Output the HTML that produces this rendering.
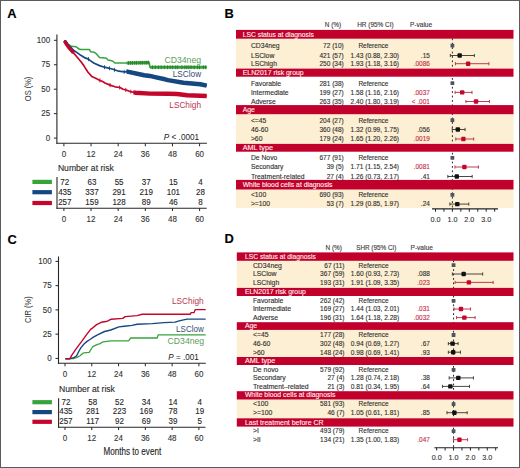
<!DOCTYPE html>
<html><head><meta charset="utf-8"><style>
html,body{margin:0;padding:0;background:#fff;}
body{width:520px;height:468px;overflow:hidden;}
svg{display:block;font-family:"Liberation Sans", sans-serif;}
</style></head><body>
<svg width="520" height="468" viewBox="0 0 520 468">
<rect x="0" y="0" width="520" height="468" fill="#fff"/>
<text x="7.20" y="17.60" font-size="12.9" fill="#000" stroke="#000" stroke-width="0.12" font-weight="bold">A</text>
<text x="224.60" y="17.80" font-size="12.9" fill="#000" stroke="#000" stroke-width="0.12" font-weight="bold">B</text>
<text x="7.50" y="244.00" font-size="12.9" fill="#000" stroke="#000" stroke-width="0.12" font-weight="bold">C</text>
<text x="224.40" y="242.80" font-size="12.9" fill="#000" stroke="#000" stroke-width="0.12" font-weight="bold">D</text>
<line x1="56.90" y1="34.50" x2="56.90" y2="143.85" stroke="#262626" stroke-width="1.1"/>
<line x1="56.35" y1="143.30" x2="206.90" y2="143.30" stroke="#262626" stroke-width="1.1"/>
<line x1="53.90" y1="40.30" x2="56.90" y2="40.30" stroke="#262626" stroke-width="1"/>
<text x="50.10" y="42.90" font-size="9.3" fill="#333333" stroke="#333333" stroke-width="0.12" text-anchor="end" textLength="13.34" lengthAdjust="spacingAndGlyphs">100</text>
<line x1="53.90" y1="64.75" x2="56.90" y2="64.75" stroke="#262626" stroke-width="1"/>
<text x="50.10" y="67.35" font-size="9.3" fill="#333333" stroke="#333333" stroke-width="0.12" text-anchor="end" textLength="8.90" lengthAdjust="spacingAndGlyphs">75</text>
<line x1="53.90" y1="89.20" x2="56.90" y2="89.20" stroke="#262626" stroke-width="1"/>
<text x="50.10" y="91.80" font-size="9.3" fill="#333333" stroke="#333333" stroke-width="0.12" text-anchor="end" textLength="8.90" lengthAdjust="spacingAndGlyphs">50</text>
<line x1="53.90" y1="113.65" x2="56.90" y2="113.65" stroke="#262626" stroke-width="1"/>
<text x="50.10" y="116.25" font-size="9.3" fill="#333333" stroke="#333333" stroke-width="0.12" text-anchor="end" textLength="8.90" lengthAdjust="spacingAndGlyphs">25</text>
<line x1="53.90" y1="138.10" x2="56.90" y2="138.10" stroke="#262626" stroke-width="1"/>
<text x="50.10" y="140.70" font-size="9.3" fill="#333333" stroke="#333333" stroke-width="0.12" text-anchor="end" textLength="4.45" lengthAdjust="spacingAndGlyphs">0</text>
<line x1="63.90" y1="143.30" x2="63.90" y2="146.30" stroke="#262626" stroke-width="1"/>
<text x="63.90" y="157.00" font-size="9.3" fill="#333333" stroke="#333333" stroke-width="0.12" text-anchor="middle" textLength="4.45" lengthAdjust="spacingAndGlyphs">0</text>
<line x1="91.04" y1="143.30" x2="91.04" y2="146.30" stroke="#262626" stroke-width="1"/>
<text x="91.04" y="157.00" font-size="9.3" fill="#333333" stroke="#333333" stroke-width="0.12" text-anchor="middle" textLength="8.90" lengthAdjust="spacingAndGlyphs">12</text>
<line x1="118.18" y1="143.30" x2="118.18" y2="146.30" stroke="#262626" stroke-width="1"/>
<text x="118.18" y="157.00" font-size="9.3" fill="#333333" stroke="#333333" stroke-width="0.12" text-anchor="middle" textLength="8.90" lengthAdjust="spacingAndGlyphs">24</text>
<line x1="145.32" y1="143.30" x2="145.32" y2="146.30" stroke="#262626" stroke-width="1"/>
<text x="145.32" y="157.00" font-size="9.3" fill="#333333" stroke="#333333" stroke-width="0.12" text-anchor="middle" textLength="8.90" lengthAdjust="spacingAndGlyphs">36</text>
<line x1="172.46" y1="143.30" x2="172.46" y2="146.30" stroke="#262626" stroke-width="1"/>
<text x="172.46" y="157.00" font-size="9.3" fill="#333333" stroke="#333333" stroke-width="0.12" text-anchor="middle" textLength="8.90" lengthAdjust="spacingAndGlyphs">48</text>
<line x1="199.60" y1="143.30" x2="199.60" y2="146.30" stroke="#262626" stroke-width="1"/>
<text x="199.60" y="157.00" font-size="9.3" fill="#333333" stroke="#333333" stroke-width="0.12" text-anchor="middle" textLength="8.90" lengthAdjust="spacingAndGlyphs">60</text>
<text x="0" y="0" font-size="8.6" fill="#333333" text-anchor="middle" textLength="24.50" lengthAdjust="spacingAndGlyphs" transform="translate(30.60,88.90) rotate(-90)">OS (%)</text>
<polyline points="64.30,40.60 67.00,43.00 70.50,46.00 73.50,46.40 76.20,46.80 78.50,48.70 80.50,49.50 89.30,49.50 90.80,51.80 94.30,52.30 95.80,53.30 99.50,57.40 106.50,58.20 108.00,60.10 112.60,61.00 114.90,63.00 127.00,63.00 149.30,62.60 149.90,67.30 206.70,67.30" fill="none" stroke="#36A43B" stroke-width="1.5" stroke-linejoin="round" stroke-linecap="butt"/>
<polyline points="126.50,63.00 127.00,63.00 149.30,62.60" fill="none" stroke="#36A43B" stroke-width="3.2" stroke-linejoin="round" stroke-linecap="butt"/>
<polyline points="150.00,67.30 206.70,67.30" fill="none" stroke="#36A43B" stroke-width="2.9" stroke-linejoin="round" stroke-linecap="butt"/>
<line x1="128.50" y1="61.07" x2="128.50" y2="64.87" stroke="#2A7A2A" stroke-width="0.9"/>
<line x1="130.60" y1="61.04" x2="130.60" y2="64.84" stroke="#2A7A2A" stroke-width="0.9"/>
<line x1="132.40" y1="61.00" x2="132.40" y2="64.80" stroke="#2A7A2A" stroke-width="0.9"/>
<line x1="134.80" y1="60.96" x2="134.80" y2="64.76" stroke="#2A7A2A" stroke-width="0.9"/>
<line x1="136.50" y1="60.93" x2="136.50" y2="64.73" stroke="#2A7A2A" stroke-width="0.9"/>
<line x1="138.90" y1="60.89" x2="138.90" y2="64.69" stroke="#2A7A2A" stroke-width="0.9"/>
<line x1="140.80" y1="60.85" x2="140.80" y2="64.65" stroke="#2A7A2A" stroke-width="0.9"/>
<line x1="142.60" y1="60.82" x2="142.60" y2="64.62" stroke="#2A7A2A" stroke-width="0.9"/>
<line x1="144.90" y1="60.78" x2="144.90" y2="64.58" stroke="#2A7A2A" stroke-width="0.9"/>
<line x1="146.70" y1="60.75" x2="146.70" y2="64.55" stroke="#2A7A2A" stroke-width="0.9"/>
<line x1="148.40" y1="60.72" x2="148.40" y2="64.52" stroke="#2A7A2A" stroke-width="0.9"/>
<line x1="172.60" y1="65.40" x2="172.60" y2="69.20" stroke="#2A7A2A" stroke-width="0.9"/>
<line x1="175.70" y1="65.40" x2="175.70" y2="69.20" stroke="#2A7A2A" stroke-width="0.9"/>
<line x1="177.60" y1="65.40" x2="177.60" y2="69.20" stroke="#2A7A2A" stroke-width="0.9"/>
<line x1="181.80" y1="65.40" x2="181.80" y2="69.20" stroke="#2A7A2A" stroke-width="0.9"/>
<line x1="184.90" y1="65.40" x2="184.90" y2="69.20" stroke="#2A7A2A" stroke-width="0.9"/>
<line x1="186.80" y1="65.40" x2="186.80" y2="69.20" stroke="#2A7A2A" stroke-width="0.9"/>
<line x1="188.80" y1="65.40" x2="188.80" y2="69.20" stroke="#2A7A2A" stroke-width="0.9"/>
<line x1="191.10" y1="65.40" x2="191.10" y2="69.20" stroke="#2A7A2A" stroke-width="0.9"/>
<line x1="194.20" y1="65.40" x2="194.20" y2="69.20" stroke="#2A7A2A" stroke-width="0.9"/>
<line x1="197.60" y1="65.40" x2="197.60" y2="69.20" stroke="#2A7A2A" stroke-width="0.9"/>
<line x1="199.50" y1="65.40" x2="199.50" y2="69.20" stroke="#2A7A2A" stroke-width="0.9"/>
<line x1="203.40" y1="65.40" x2="203.40" y2="69.20" stroke="#2A7A2A" stroke-width="0.9"/>
<line x1="205.70" y1="65.40" x2="205.70" y2="69.20" stroke="#2A7A2A" stroke-width="0.9"/>
<line x1="152.50" y1="65.40" x2="152.50" y2="69.20" stroke="#2A7A2A" stroke-width="0.9"/>
<line x1="155.30" y1="65.40" x2="155.30" y2="69.20" stroke="#2A7A2A" stroke-width="0.9"/>
<line x1="158.50" y1="65.40" x2="158.50" y2="69.20" stroke="#2A7A2A" stroke-width="0.9"/>
<line x1="161.20" y1="65.40" x2="161.20" y2="69.20" stroke="#2A7A2A" stroke-width="0.9"/>
<line x1="164.40" y1="65.40" x2="164.40" y2="69.20" stroke="#2A7A2A" stroke-width="0.9"/>
<line x1="167.50" y1="65.40" x2="167.50" y2="69.20" stroke="#2A7A2A" stroke-width="0.9"/>
<line x1="170.20" y1="65.40" x2="170.20" y2="69.20" stroke="#2A7A2A" stroke-width="0.9"/>
<polyline points="64.30,40.60 68.00,44.50 70.50,46.80 73.50,50.20 77.40,52.90 81.20,55.60 85.10,57.90 88.50,59.10 90.30,60.60 94.20,63.30 99.50,65.60 104.50,67.20 109.50,68.30 114.50,69.80 118.80,71.20 124.20,71.80 127.30,71.60 144.20,75.20 150.00,75.90 155.00,77.10 165.00,79.30 168.00,80.10 183.40,82.70 200.30,84.20 206.70,85.60" fill="none" stroke="#154781" stroke-width="1.7" stroke-linejoin="round" stroke-linecap="butt"/>
<polyline points="126.50,71.65 127.30,71.60 144.20,75.20 150.00,75.90 155.00,77.10 165.00,79.30 168.00,80.10 183.40,82.70 200.30,84.20 206.70,85.60" fill="none" stroke="#154781" stroke-width="4.5" stroke-linejoin="round" stroke-linecap="butt"/>
<polyline points="64.50,40.81 67.00,43.45" fill="none" stroke="#154781" stroke-width="3.0" stroke-linejoin="round" stroke-linecap="butt"/>
<line x1="88.50" y1="57.10" x2="88.50" y2="61.10" stroke="#154781" stroke-width="0.9"/>
<line x1="104.50" y1="65.20" x2="104.50" y2="69.20" stroke="#154781" stroke-width="0.9"/>
<line x1="109.50" y1="66.30" x2="109.50" y2="70.30" stroke="#154781" stroke-width="0.9"/>
<line x1="114.50" y1="67.80" x2="114.50" y2="71.80" stroke="#154781" stroke-width="0.9"/>
<line x1="124.20" y1="69.80" x2="124.20" y2="73.80" stroke="#154781" stroke-width="0.9"/>
<polyline points="64.30,40.60 66.50,44.50 69.70,48.70 73.50,52.90 77.00,57.00 81.20,62.00 84.10,66.10 88.00,72.20 91.80,76.40 95.70,78.30 100.00,80.40 102.60,81.60 105.00,83.00 110.00,85.10 115.00,86.80 120.00,87.50 123.10,89.20 126.20,90.00 130.00,91.50 135.40,92.70 150.00,93.60 168.00,93.80 177.00,94.00 187.20,95.20 206.70,96.00" fill="none" stroke="#C4062C" stroke-width="1.7" stroke-linejoin="round" stroke-linecap="butt"/>
<polyline points="64.50,40.95 66.50,44.50 69.70,48.70 73.50,52.90" fill="none" stroke="#C4062C" stroke-width="3.4" stroke-linejoin="round" stroke-linecap="butt"/>
<polyline points="134.00,92.39 135.40,92.70 150.00,93.60 168.00,93.80 177.00,94.00 187.20,95.20 206.70,96.00" fill="none" stroke="#C4062C" stroke-width="4.4" stroke-linejoin="round" stroke-linecap="butt"/>
<line x1="99.90" y1="78.35" x2="99.90" y2="82.35" stroke="#C4062C" stroke-width="0.9"/>
<line x1="110.10" y1="83.13" x2="110.10" y2="87.13" stroke="#C4062C" stroke-width="0.9"/>
<line x1="119.60" y1="85.44" x2="119.60" y2="89.44" stroke="#C4062C" stroke-width="0.9"/>
<line x1="125.80" y1="87.90" x2="125.80" y2="91.90" stroke="#C4062C" stroke-width="0.9"/>
<line x1="130.80" y1="89.68" x2="130.80" y2="93.68" stroke="#C4062C" stroke-width="0.9"/>
<line x1="133.80" y1="90.34" x2="133.80" y2="94.34" stroke="#C4062C" stroke-width="0.9"/>
<text x="164.40" y="62.60" font-size="8.6" fill="#5E9E5C" stroke="#5E9E5C" stroke-width="0" textLength="36.70" lengthAdjust="spacingAndGlyphs">CD34neg</text>
<text x="172.80" y="76.80" font-size="8.6" fill="#3A4A72" stroke="#3A4A72" stroke-width="0" textLength="28.30" lengthAdjust="spacingAndGlyphs">LSClow</text>
<text x="169.30" y="107.60" font-size="8.6" fill="#B8364F" stroke="#B8364F" stroke-width="0" textLength="31.70" lengthAdjust="spacingAndGlyphs">LSChigh</text>
<text x="163.80" y="139.60" font-size="8.6" fill="#222" textLength="35.40" lengthAdjust="spacingAndGlyphs"><tspan font-style="italic">P</tspan> < .0001</text>
<text x="57.90" y="170.80" font-size="8.6" fill="#2a2a2a" stroke="#2a2a2a" stroke-width="0.12" textLength="55.90" lengthAdjust="spacingAndGlyphs">Number at risk</text>
<rect x="32.40" y="179.80" width="19.50" height="4.20" fill="#36A43B"/>
<rect x="32.40" y="190.10" width="19.50" height="4.20" fill="#154781"/>
<rect x="32.40" y="200.90" width="19.50" height="4.20" fill="#C4062C"/>
<line x1="57.00" y1="176.90" x2="57.00" y2="208.75" stroke="#262626" stroke-width="1.1"/>
<line x1="56.45" y1="208.20" x2="206.70" y2="208.20" stroke="#262626" stroke-width="1.1"/>
<line x1="63.90" y1="208.20" x2="63.90" y2="211.00" stroke="#262626" stroke-width="1"/>
<text x="63.90" y="221.90" font-size="9.3" fill="#333333" stroke="#333333" stroke-width="0.12" text-anchor="middle" textLength="4.45" lengthAdjust="spacingAndGlyphs">0</text>
<line x1="91.04" y1="208.20" x2="91.04" y2="211.00" stroke="#262626" stroke-width="1"/>
<text x="91.04" y="221.90" font-size="9.3" fill="#333333" stroke="#333333" stroke-width="0.12" text-anchor="middle" textLength="8.90" lengthAdjust="spacingAndGlyphs">12</text>
<line x1="118.18" y1="208.20" x2="118.18" y2="211.00" stroke="#262626" stroke-width="1"/>
<text x="118.18" y="221.90" font-size="9.3" fill="#333333" stroke="#333333" stroke-width="0.12" text-anchor="middle" textLength="8.90" lengthAdjust="spacingAndGlyphs">24</text>
<line x1="145.32" y1="208.20" x2="145.32" y2="211.00" stroke="#262626" stroke-width="1"/>
<text x="145.32" y="221.90" font-size="9.3" fill="#333333" stroke="#333333" stroke-width="0.12" text-anchor="middle" textLength="8.90" lengthAdjust="spacingAndGlyphs">36</text>
<line x1="172.46" y1="208.20" x2="172.46" y2="211.00" stroke="#262626" stroke-width="1"/>
<text x="172.46" y="221.90" font-size="9.3" fill="#333333" stroke="#333333" stroke-width="0.12" text-anchor="middle" textLength="8.90" lengthAdjust="spacingAndGlyphs">48</text>
<line x1="199.60" y1="208.20" x2="199.60" y2="211.00" stroke="#262626" stroke-width="1"/>
<text x="199.60" y="221.90" font-size="9.3" fill="#333333" stroke="#333333" stroke-width="0.12" text-anchor="middle" textLength="8.90" lengthAdjust="spacingAndGlyphs">60</text>
<text x="64.80" y="184.80" font-size="9.3" fill="#262626" stroke="#262626" stroke-width="0.12" text-anchor="middle" textLength="8.90" lengthAdjust="spacingAndGlyphs">72</text>
<text x="91.94" y="184.80" font-size="9.3" fill="#262626" stroke="#262626" stroke-width="0.12" text-anchor="middle" textLength="8.90" lengthAdjust="spacingAndGlyphs">63</text>
<text x="119.08" y="184.80" font-size="9.3" fill="#262626" stroke="#262626" stroke-width="0.12" text-anchor="middle" textLength="8.90" lengthAdjust="spacingAndGlyphs">55</text>
<text x="146.22" y="184.80" font-size="9.3" fill="#262626" stroke="#262626" stroke-width="0.12" text-anchor="middle" textLength="8.90" lengthAdjust="spacingAndGlyphs">37</text>
<text x="173.36" y="184.80" font-size="9.3" fill="#262626" stroke="#262626" stroke-width="0.12" text-anchor="middle" textLength="8.90" lengthAdjust="spacingAndGlyphs">15</text>
<text x="200.50" y="184.80" font-size="9.3" fill="#262626" stroke="#262626" stroke-width="0.12" text-anchor="middle" textLength="4.45" lengthAdjust="spacingAndGlyphs">4</text>
<text x="64.80" y="195.10" font-size="9.3" fill="#262626" stroke="#262626" stroke-width="0.12" text-anchor="middle" textLength="13.34" lengthAdjust="spacingAndGlyphs">435</text>
<text x="91.94" y="195.10" font-size="9.3" fill="#262626" stroke="#262626" stroke-width="0.12" text-anchor="middle" textLength="13.34" lengthAdjust="spacingAndGlyphs">337</text>
<text x="119.08" y="195.10" font-size="9.3" fill="#262626" stroke="#262626" stroke-width="0.12" text-anchor="middle" textLength="13.34" lengthAdjust="spacingAndGlyphs">291</text>
<text x="146.22" y="195.10" font-size="9.3" fill="#262626" stroke="#262626" stroke-width="0.12" text-anchor="middle" textLength="13.34" lengthAdjust="spacingAndGlyphs">219</text>
<text x="173.36" y="195.10" font-size="9.3" fill="#262626" stroke="#262626" stroke-width="0.12" text-anchor="middle" textLength="13.34" lengthAdjust="spacingAndGlyphs">101</text>
<text x="200.50" y="195.10" font-size="9.3" fill="#262626" stroke="#262626" stroke-width="0.12" text-anchor="middle" textLength="8.90" lengthAdjust="spacingAndGlyphs">28</text>
<text x="64.80" y="205.30" font-size="9.3" fill="#262626" stroke="#262626" stroke-width="0.12" text-anchor="middle" textLength="13.34" lengthAdjust="spacingAndGlyphs">257</text>
<text x="91.94" y="205.30" font-size="9.3" fill="#262626" stroke="#262626" stroke-width="0.12" text-anchor="middle" textLength="13.34" lengthAdjust="spacingAndGlyphs">159</text>
<text x="119.08" y="205.30" font-size="9.3" fill="#262626" stroke="#262626" stroke-width="0.12" text-anchor="middle" textLength="13.34" lengthAdjust="spacingAndGlyphs">128</text>
<text x="146.22" y="205.30" font-size="9.3" fill="#262626" stroke="#262626" stroke-width="0.12" text-anchor="middle" textLength="8.90" lengthAdjust="spacingAndGlyphs">89</text>
<text x="173.36" y="205.30" font-size="9.3" fill="#262626" stroke="#262626" stroke-width="0.12" text-anchor="middle" textLength="8.90" lengthAdjust="spacingAndGlyphs">46</text>
<text x="200.50" y="205.30" font-size="9.3" fill="#262626" stroke="#262626" stroke-width="0.12" text-anchor="middle" textLength="4.45" lengthAdjust="spacingAndGlyphs">8</text>
<line x1="58.50" y1="256.50" x2="58.50" y2="363.85" stroke="#262626" stroke-width="1.1"/>
<line x1="57.95" y1="363.30" x2="205.80" y2="363.30" stroke="#262626" stroke-width="1.1"/>
<line x1="55.50" y1="261.40" x2="58.50" y2="261.40" stroke="#262626" stroke-width="1"/>
<text x="51.70" y="264.00" font-size="9.3" fill="#333333" stroke="#333333" stroke-width="0.12" text-anchor="end" textLength="13.34" lengthAdjust="spacingAndGlyphs">100</text>
<line x1="55.50" y1="285.65" x2="58.50" y2="285.65" stroke="#262626" stroke-width="1"/>
<text x="51.70" y="288.25" font-size="9.3" fill="#333333" stroke="#333333" stroke-width="0.12" text-anchor="end" textLength="8.90" lengthAdjust="spacingAndGlyphs">75</text>
<line x1="55.50" y1="309.90" x2="58.50" y2="309.90" stroke="#262626" stroke-width="1"/>
<text x="51.70" y="312.50" font-size="9.3" fill="#333333" stroke="#333333" stroke-width="0.12" text-anchor="end" textLength="8.90" lengthAdjust="spacingAndGlyphs">50</text>
<line x1="55.50" y1="334.15" x2="58.50" y2="334.15" stroke="#262626" stroke-width="1"/>
<text x="51.70" y="336.75" font-size="9.3" fill="#333333" stroke="#333333" stroke-width="0.12" text-anchor="end" textLength="8.90" lengthAdjust="spacingAndGlyphs">25</text>
<line x1="55.50" y1="358.40" x2="58.50" y2="358.40" stroke="#262626" stroke-width="1"/>
<text x="51.70" y="361.00" font-size="9.3" fill="#333333" stroke="#333333" stroke-width="0.12" text-anchor="end" textLength="4.45" lengthAdjust="spacingAndGlyphs">0</text>
<line x1="65.00" y1="363.30" x2="65.00" y2="366.30" stroke="#262626" stroke-width="1"/>
<text x="65.00" y="376.90" font-size="9.3" fill="#333333" stroke="#333333" stroke-width="0.12" text-anchor="middle" textLength="4.45" lengthAdjust="spacingAndGlyphs">0</text>
<line x1="91.78" y1="363.30" x2="91.78" y2="366.30" stroke="#262626" stroke-width="1"/>
<text x="91.78" y="376.90" font-size="9.3" fill="#333333" stroke="#333333" stroke-width="0.12" text-anchor="middle" textLength="8.90" lengthAdjust="spacingAndGlyphs">12</text>
<line x1="118.56" y1="363.30" x2="118.56" y2="366.30" stroke="#262626" stroke-width="1"/>
<text x="118.56" y="376.90" font-size="9.3" fill="#333333" stroke="#333333" stroke-width="0.12" text-anchor="middle" textLength="8.90" lengthAdjust="spacingAndGlyphs">24</text>
<line x1="145.34" y1="363.30" x2="145.34" y2="366.30" stroke="#262626" stroke-width="1"/>
<text x="145.34" y="376.90" font-size="9.3" fill="#333333" stroke="#333333" stroke-width="0.12" text-anchor="middle" textLength="8.90" lengthAdjust="spacingAndGlyphs">36</text>
<line x1="172.12" y1="363.30" x2="172.12" y2="366.30" stroke="#262626" stroke-width="1"/>
<text x="172.12" y="376.90" font-size="9.3" fill="#333333" stroke="#333333" stroke-width="0.12" text-anchor="middle" textLength="8.90" lengthAdjust="spacingAndGlyphs">48</text>
<line x1="198.90" y1="363.30" x2="198.90" y2="366.30" stroke="#262626" stroke-width="1"/>
<text x="198.90" y="376.90" font-size="9.3" fill="#333333" stroke="#333333" stroke-width="0.12" text-anchor="middle" textLength="8.90" lengthAdjust="spacingAndGlyphs">60</text>
<text x="0" y="0" font-size="8.6" fill="#333333" text-anchor="middle" textLength="26.70" lengthAdjust="spacingAndGlyphs" transform="translate(30.90,309.60) rotate(-90)">CIR (%)</text>
<polyline points="65.40,358.70 74.00,358.50 77.00,357.40 80.00,355.80 83.00,353.20 86.00,352.60 89.20,352.30 91.50,348.50 92.80,346.60 97.00,344.60 100.00,343.60 103.00,341.80 110.80,340.90 128.50,340.90 130.80,338.00 157.20,338.00 158.20,334.80 205.70,334.80" fill="none" stroke="#36A43B" stroke-width="1.3" stroke-linejoin="round" stroke-linecap="butt"/>
<polyline points="65.40,358.70 70.00,358.70 73.80,357.60 76.50,356.00 79.00,351.00 81.00,347.60 84.00,344.00 87.00,341.40 90.00,339.50 93.80,336.90 98.00,334.60 104.60,331.50 110.80,330.00 118.90,326.90 124.30,326.20 132.00,325.40 137.10,324.30 152.20,323.60 164.00,322.60 175.10,322.10 180.10,320.60 187.10,319.10 205.70,319.10" fill="none" stroke="#154781" stroke-width="1.4" stroke-linejoin="round" stroke-linecap="butt"/>
<polyline points="65.40,358.70 70.00,358.70 71.50,355.60 75.40,349.80 78.50,345.60 82.30,340.60 86.20,335.20 90.80,329.10 92.00,328.50 96.60,324.60 101.20,322.30 107.40,321.20 111.20,319.20 122.80,318.40 125.10,316.60 137.10,315.60 142.10,314.30 190.10,314.30 191.10,312.60 194.10,312.60 195.10,309.60 205.70,309.60" fill="none" stroke="#C4062C" stroke-width="1.4" stroke-linejoin="round" stroke-linecap="butt"/>
<text x="172.00" y="303.50" font-size="8.6" fill="#B8364F" stroke="#B8364F" stroke-width="0" textLength="31.70" lengthAdjust="spacingAndGlyphs">LSChigh</text>
<text x="176.10" y="331.60" font-size="8.6" fill="#3A4A72" stroke="#3A4A72" stroke-width="0" textLength="27.60" lengthAdjust="spacingAndGlyphs">LSClow</text>
<text x="167.50" y="343.80" font-size="8.6" fill="#5E9E5C" stroke="#5E9E5C" stroke-width="0" textLength="36.70" lengthAdjust="spacingAndGlyphs">CD34neg</text>
<text x="168.30" y="359.60" font-size="8.6" fill="#222" textLength="30.40" lengthAdjust="spacingAndGlyphs"><tspan font-style="italic">P</tspan> = .001</text>
<text x="59.00" y="391.60" font-size="8.6" fill="#2a2a2a" stroke="#2a2a2a" stroke-width="0.12" textLength="55.90" lengthAdjust="spacingAndGlyphs">Number at risk</text>
<rect x="32.40" y="400.10" width="19.50" height="4.20" fill="#36A43B"/>
<rect x="32.40" y="410.00" width="19.50" height="4.20" fill="#154781"/>
<rect x="32.40" y="419.70" width="19.50" height="4.20" fill="#C4062C"/>
<line x1="58.60" y1="398.20" x2="58.60" y2="427.75" stroke="#262626" stroke-width="1.1"/>
<line x1="58.05" y1="427.20" x2="205.50" y2="427.20" stroke="#262626" stroke-width="1.1"/>
<line x1="65.00" y1="427.20" x2="65.00" y2="430.00" stroke="#262626" stroke-width="1"/>
<text x="65.00" y="441.00" font-size="9.3" fill="#333333" stroke="#333333" stroke-width="0.12" text-anchor="middle" textLength="4.45" lengthAdjust="spacingAndGlyphs">0</text>
<line x1="91.78" y1="427.20" x2="91.78" y2="430.00" stroke="#262626" stroke-width="1"/>
<text x="91.78" y="441.00" font-size="9.3" fill="#333333" stroke="#333333" stroke-width="0.12" text-anchor="middle" textLength="8.90" lengthAdjust="spacingAndGlyphs">12</text>
<line x1="118.56" y1="427.20" x2="118.56" y2="430.00" stroke="#262626" stroke-width="1"/>
<text x="118.56" y="441.00" font-size="9.3" fill="#333333" stroke="#333333" stroke-width="0.12" text-anchor="middle" textLength="8.90" lengthAdjust="spacingAndGlyphs">24</text>
<line x1="145.34" y1="427.20" x2="145.34" y2="430.00" stroke="#262626" stroke-width="1"/>
<text x="145.34" y="441.00" font-size="9.3" fill="#333333" stroke="#333333" stroke-width="0.12" text-anchor="middle" textLength="8.90" lengthAdjust="spacingAndGlyphs">36</text>
<line x1="172.12" y1="427.20" x2="172.12" y2="430.00" stroke="#262626" stroke-width="1"/>
<text x="172.12" y="441.00" font-size="9.3" fill="#333333" stroke="#333333" stroke-width="0.12" text-anchor="middle" textLength="8.90" lengthAdjust="spacingAndGlyphs">48</text>
<line x1="198.90" y1="427.20" x2="198.90" y2="430.00" stroke="#262626" stroke-width="1"/>
<text x="198.90" y="441.00" font-size="9.3" fill="#333333" stroke="#333333" stroke-width="0.12" text-anchor="middle" textLength="8.90" lengthAdjust="spacingAndGlyphs">60</text>
<text x="65.90" y="404.90" font-size="9.3" fill="#262626" stroke="#262626" stroke-width="0.12" text-anchor="middle" textLength="8.90" lengthAdjust="spacingAndGlyphs">72</text>
<text x="92.68" y="404.90" font-size="9.3" fill="#262626" stroke="#262626" stroke-width="0.12" text-anchor="middle" textLength="8.90" lengthAdjust="spacingAndGlyphs">58</text>
<text x="119.46" y="404.90" font-size="9.3" fill="#262626" stroke="#262626" stroke-width="0.12" text-anchor="middle" textLength="8.90" lengthAdjust="spacingAndGlyphs">52</text>
<text x="146.24" y="404.90" font-size="9.3" fill="#262626" stroke="#262626" stroke-width="0.12" text-anchor="middle" textLength="8.90" lengthAdjust="spacingAndGlyphs">34</text>
<text x="173.02" y="404.90" font-size="9.3" fill="#262626" stroke="#262626" stroke-width="0.12" text-anchor="middle" textLength="8.90" lengthAdjust="spacingAndGlyphs">14</text>
<text x="199.80" y="404.90" font-size="9.3" fill="#262626" stroke="#262626" stroke-width="0.12" text-anchor="middle" textLength="4.45" lengthAdjust="spacingAndGlyphs">4</text>
<text x="65.90" y="414.20" font-size="9.3" fill="#262626" stroke="#262626" stroke-width="0.12" text-anchor="middle" textLength="13.34" lengthAdjust="spacingAndGlyphs">435</text>
<text x="92.68" y="414.20" font-size="9.3" fill="#262626" stroke="#262626" stroke-width="0.12" text-anchor="middle" textLength="13.34" lengthAdjust="spacingAndGlyphs">281</text>
<text x="119.46" y="414.20" font-size="9.3" fill="#262626" stroke="#262626" stroke-width="0.12" text-anchor="middle" textLength="13.34" lengthAdjust="spacingAndGlyphs">223</text>
<text x="146.24" y="414.20" font-size="9.3" fill="#262626" stroke="#262626" stroke-width="0.12" text-anchor="middle" textLength="13.34" lengthAdjust="spacingAndGlyphs">169</text>
<text x="173.02" y="414.20" font-size="9.3" fill="#262626" stroke="#262626" stroke-width="0.12" text-anchor="middle" textLength="8.90" lengthAdjust="spacingAndGlyphs">78</text>
<text x="199.80" y="414.20" font-size="9.3" fill="#262626" stroke="#262626" stroke-width="0.12" text-anchor="middle" textLength="8.90" lengthAdjust="spacingAndGlyphs">19</text>
<text x="65.90" y="423.80" font-size="9.3" fill="#262626" stroke="#262626" stroke-width="0.12" text-anchor="middle" textLength="13.34" lengthAdjust="spacingAndGlyphs">257</text>
<text x="92.68" y="423.80" font-size="9.3" fill="#262626" stroke="#262626" stroke-width="0.12" text-anchor="middle" textLength="12.75" lengthAdjust="spacingAndGlyphs">117</text>
<text x="119.46" y="423.80" font-size="9.3" fill="#262626" stroke="#262626" stroke-width="0.12" text-anchor="middle" textLength="8.90" lengthAdjust="spacingAndGlyphs">92</text>
<text x="146.24" y="423.80" font-size="9.3" fill="#262626" stroke="#262626" stroke-width="0.12" text-anchor="middle" textLength="8.90" lengthAdjust="spacingAndGlyphs">69</text>
<text x="173.02" y="423.80" font-size="9.3" fill="#262626" stroke="#262626" stroke-width="0.12" text-anchor="middle" textLength="8.90" lengthAdjust="spacingAndGlyphs">39</text>
<text x="199.80" y="423.80" font-size="9.3" fill="#262626" stroke="#262626" stroke-width="0.12" text-anchor="middle" textLength="4.45" lengthAdjust="spacingAndGlyphs">5</text>
<text x="103.50" y="455.40" font-size="10" fill="#222" stroke="#222" stroke-width="0.12" textLength="57.70" lengthAdjust="spacingAndGlyphs">Months to event</text>
<rect x="236.00" y="38.70" width="277.50" height="29.90" fill="#FCEFD3"/>
<rect x="236.00" y="114.20" width="277.50" height="29.70" fill="#FCEFD3"/>
<rect x="236.00" y="189.50" width="277.50" height="18.40" fill="#FCEFD3"/>
<line x1="452.40" y1="34.00" x2="452.40" y2="208.90" stroke="#1a1a1a" stroke-width="0.95" stroke-dasharray="1.8,2.6"/>
<rect x="236.00" y="29.90" width="277.50" height="8.80" fill="#C1002B"/>
<rect x="236.00" y="68.60" width="277.50" height="8.10" fill="#C1002B"/>
<rect x="236.00" y="105.10" width="277.50" height="9.10" fill="#C1002B"/>
<rect x="236.00" y="143.90" width="277.50" height="7.80" fill="#C1002B"/>
<rect x="236.00" y="179.90" width="277.50" height="9.60" fill="#C1002B"/>
<text x="324.80" y="27.10" font-size="6.6" fill="#3a3a3a" stroke="#3a3a3a" stroke-width="0.12" textLength="16.40" lengthAdjust="spacingAndGlyphs">N (%)</text>
<text x="357.20" y="27.10" font-size="6.6" fill="#3a3a3a" stroke="#3a3a3a" stroke-width="0.12" textLength="36.50" lengthAdjust="spacingAndGlyphs">HR (95% CI)</text>
<text x="409.90" y="27.10" font-size="6.6" fill="#3a3a3a" stroke="#3a3a3a" stroke-width="0.12" textLength="22.30" lengthAdjust="spacingAndGlyphs">P-value</text>
<text x="242.70" y="36.60" font-size="6.9" fill="#FFF0F0" stroke="#FFF0F0" stroke-width="0.12" textLength="71.20" lengthAdjust="spacingAndGlyphs">LSC status at diagnosis</text>
<text x="242.70" y="74.60" font-size="6.9" fill="#FFF0F0" stroke="#FFF0F0" stroke-width="0.12" textLength="61.00" lengthAdjust="spacingAndGlyphs">ELN2017 risk group</text>
<text x="242.70" y="112.10" font-size="6.9" fill="#FFF0F0" stroke="#FFF0F0" stroke-width="0.12">Age</text>
<text x="242.70" y="149.60" font-size="6.9" fill="#FFF0F0" stroke="#FFF0F0" stroke-width="0.12" textLength="30.30" lengthAdjust="spacingAndGlyphs">AML type</text>
<text x="242.70" y="187.40" font-size="6.9" fill="#FFF0F0" stroke="#FFF0F0" stroke-width="0.12" textLength="89.80" lengthAdjust="spacingAndGlyphs">White blood cells at diagnosis</text>
<text x="250.90" y="47.90" font-size="7.0" fill="#2e2e2e" stroke="#2e2e2e" stroke-width="0.12" textLength="28.69" lengthAdjust="spacingAndGlyphs">CD34neg</text>
<text x="343.80" y="47.90" font-size="7.0" fill="#2e2e2e" stroke="#2e2e2e" stroke-width="0.12" text-anchor="end" textLength="20.74" lengthAdjust="spacingAndGlyphs">72 (10)</text>
<text x="373.40" y="47.90" font-size="7.0" fill="#2e2e2e" stroke="#2e2e2e" stroke-width="0.12" text-anchor="middle" textLength="30.03" lengthAdjust="spacingAndGlyphs">Reference</text>
<rect x="450.50" y="43.70" width="3.8" height="3.8" rx="0.4" fill="#4B5563"/>
<text x="250.90" y="57.80" font-size="7.0" fill="#2e2e2e" stroke="#2e2e2e" stroke-width="0.12" textLength="23.40" lengthAdjust="spacingAndGlyphs">LSClow</text>
<text x="343.80" y="57.80" font-size="7.0" fill="#2e2e2e" stroke="#2e2e2e" stroke-width="0.12" text-anchor="end" textLength="24.38" lengthAdjust="spacingAndGlyphs">421 (57)</text>
<text x="374.80" y="57.80" font-size="7.0" fill="#2e2e2e" stroke="#2e2e2e" stroke-width="0.12" text-anchor="middle" textLength="48.54" lengthAdjust="spacingAndGlyphs">1.43 (0.88, 2.30)</text>
<text x="429.80" y="57.80" font-size="7.0" fill="#2e2e2e" stroke="#2e2e2e" stroke-width="0.12" text-anchor="end" textLength="8.95" lengthAdjust="spacingAndGlyphs">.15</text>
<line x1="450.37" y1="55.50" x2="474.37" y2="55.50" stroke="#333" stroke-width="0.9"/>
<line x1="450.37" y1="53.90" x2="450.37" y2="57.10" stroke="#333" stroke-width="0.9"/>
<line x1="474.37" y1="53.90" x2="474.37" y2="57.10" stroke="#333" stroke-width="0.9"/>
<rect x="457.47" y="53.30" width="4.40" height="4.40" fill="#111" rx="0.9"/>
<text x="250.90" y="66.00" font-size="7.0" fill="#2e2e2e" stroke="#2e2e2e" stroke-width="0.12" textLength="26.04" lengthAdjust="spacingAndGlyphs">LSChigh</text>
<text x="343.80" y="66.00" font-size="7.0" fill="#2e2e2e" stroke="#2e2e2e" stroke-width="0.12" text-anchor="end" textLength="24.38" lengthAdjust="spacingAndGlyphs">250 (34)</text>
<text x="374.80" y="66.00" font-size="7.0" fill="#2e2e2e" stroke="#2e2e2e" stroke-width="0.12" text-anchor="middle" textLength="48.54" lengthAdjust="spacingAndGlyphs">1.93 (1.18, 3.16)</text>
<text x="429.80" y="66.00" font-size="7.0" fill="#C42A45" stroke="#C42A45" stroke-width="0.12" text-anchor="end" textLength="16.11" lengthAdjust="spacingAndGlyphs">.0086</text>
<line x1="455.44" y1="63.70" x2="488.90" y2="63.70" stroke="#B5283F" stroke-width="0.9"/>
<line x1="455.44" y1="62.10" x2="455.44" y2="65.30" stroke="#B5283F" stroke-width="0.9"/>
<line x1="488.90" y1="62.10" x2="488.90" y2="65.30" stroke="#B5283F" stroke-width="0.9"/>
<rect x="465.92" y="61.50" width="4.40" height="4.40" fill="#C4062C" rx="0.9"/>
<text x="250.90" y="85.50" font-size="7.0" fill="#2e2e2e" stroke="#2e2e2e" stroke-width="0.12" textLength="30.19" lengthAdjust="spacingAndGlyphs">Favorable</text>
<text x="343.80" y="85.50" font-size="7.0" fill="#2e2e2e" stroke="#2e2e2e" stroke-width="0.12" text-anchor="end" textLength="24.38" lengthAdjust="spacingAndGlyphs">281 (38)</text>
<text x="373.40" y="85.50" font-size="7.0" fill="#2e2e2e" stroke="#2e2e2e" stroke-width="0.12" text-anchor="middle" textLength="30.03" lengthAdjust="spacingAndGlyphs">Reference</text>
<rect x="450.50" y="81.30" width="3.8" height="3.8" rx="0.4" fill="#4B5563"/>
<text x="250.90" y="94.70" font-size="7.0" fill="#2e2e2e" stroke="#2e2e2e" stroke-width="0.12" textLength="37.74" lengthAdjust="spacingAndGlyphs">Intermediate</text>
<text x="343.80" y="94.70" font-size="7.0" fill="#2e2e2e" stroke="#2e2e2e" stroke-width="0.12" text-anchor="end" textLength="24.38" lengthAdjust="spacingAndGlyphs">199 (27)</text>
<text x="374.80" y="94.70" font-size="7.0" fill="#2e2e2e" stroke="#2e2e2e" stroke-width="0.12" text-anchor="middle" textLength="48.54" lengthAdjust="spacingAndGlyphs">1.58 (1.16, 2.16)</text>
<text x="429.80" y="94.70" font-size="7.0" fill="#C42A45" stroke="#C42A45" stroke-width="0.12" text-anchor="end" textLength="16.11" lengthAdjust="spacingAndGlyphs">.0037</text>
<line x1="455.10" y1="92.40" x2="472.00" y2="92.40" stroke="#B5283F" stroke-width="0.9"/>
<line x1="455.10" y1="90.80" x2="455.10" y2="94.00" stroke="#B5283F" stroke-width="0.9"/>
<line x1="472.00" y1="90.80" x2="472.00" y2="94.00" stroke="#B5283F" stroke-width="0.9"/>
<rect x="460.00" y="90.20" width="4.40" height="4.40" fill="#C4062C" rx="0.9"/>
<text x="250.90" y="103.80" font-size="7.0" fill="#2e2e2e" stroke="#2e2e2e" stroke-width="0.12" textLength="24.91" lengthAdjust="spacingAndGlyphs">Adverse</text>
<text x="343.80" y="103.80" font-size="7.0" fill="#2e2e2e" stroke="#2e2e2e" stroke-width="0.12" text-anchor="end" textLength="24.38" lengthAdjust="spacingAndGlyphs">263 (35)</text>
<text x="374.80" y="103.80" font-size="7.0" fill="#2e2e2e" stroke="#2e2e2e" stroke-width="0.12" text-anchor="middle" textLength="48.54" lengthAdjust="spacingAndGlyphs">2.40 (1.80, 3.19)</text>
<text x="429.80" y="103.80" font-size="7.0" fill="#C42A45" stroke="#C42A45" stroke-width="0.12" text-anchor="end" textLength="18.08" lengthAdjust="spacingAndGlyphs">&lt; .001</text>
<line x1="465.92" y1="101.50" x2="489.41" y2="101.50" stroke="#B5283F" stroke-width="0.9"/>
<line x1="465.92" y1="99.90" x2="465.92" y2="103.10" stroke="#B5283F" stroke-width="0.9"/>
<line x1="489.41" y1="99.90" x2="489.41" y2="103.10" stroke="#B5283F" stroke-width="0.9"/>
<rect x="473.86" y="99.30" width="4.40" height="4.40" fill="#C4062C" rx="0.9"/>
<text x="250.90" y="122.50" font-size="7.0" fill="#2e2e2e" stroke="#2e2e2e" stroke-width="0.12" textLength="15.48" lengthAdjust="spacingAndGlyphs">&lt;=45</text>
<text x="343.80" y="122.50" font-size="7.0" fill="#2e2e2e" stroke="#2e2e2e" stroke-width="0.12" text-anchor="end" textLength="24.38" lengthAdjust="spacingAndGlyphs">204 (27)</text>
<text x="373.40" y="122.50" font-size="7.0" fill="#2e2e2e" stroke="#2e2e2e" stroke-width="0.12" text-anchor="middle" textLength="30.03" lengthAdjust="spacingAndGlyphs">Reference</text>
<rect x="450.50" y="118.30" width="3.8" height="3.8" rx="0.4" fill="#4B5563"/>
<text x="250.90" y="131.80" font-size="7.0" fill="#2e2e2e" stroke="#2e2e2e" stroke-width="0.12" textLength="17.36" lengthAdjust="spacingAndGlyphs">46-60</text>
<text x="343.80" y="131.80" font-size="7.0" fill="#2e2e2e" stroke="#2e2e2e" stroke-width="0.12" text-anchor="end" textLength="24.38" lengthAdjust="spacingAndGlyphs">360 (48)</text>
<text x="374.80" y="131.80" font-size="7.0" fill="#2e2e2e" stroke="#2e2e2e" stroke-width="0.12" text-anchor="middle" textLength="48.54" lengthAdjust="spacingAndGlyphs">1.32 (0.99, 1.75)</text>
<text x="429.80" y="131.80" font-size="7.0" fill="#2e2e2e" stroke="#2e2e2e" stroke-width="0.12" text-anchor="end" textLength="12.53" lengthAdjust="spacingAndGlyphs">.056</text>
<line x1="452.23" y1="129.50" x2="465.07" y2="129.50" stroke="#333" stroke-width="0.9"/>
<line x1="452.23" y1="127.90" x2="452.23" y2="131.10" stroke="#333" stroke-width="0.9"/>
<line x1="465.07" y1="127.90" x2="465.07" y2="131.10" stroke="#333" stroke-width="0.9"/>
<rect x="455.61" y="127.30" width="4.40" height="4.40" fill="#111" rx="0.9"/>
<text x="250.90" y="141.30" font-size="7.0" fill="#2e2e2e" stroke="#2e2e2e" stroke-width="0.12" textLength="11.52" lengthAdjust="spacingAndGlyphs">&gt;60</text>
<text x="343.80" y="141.30" font-size="7.0" fill="#2e2e2e" stroke="#2e2e2e" stroke-width="0.12" text-anchor="end" textLength="24.38" lengthAdjust="spacingAndGlyphs">179 (24)</text>
<text x="374.80" y="141.30" font-size="7.0" fill="#2e2e2e" stroke="#2e2e2e" stroke-width="0.12" text-anchor="middle" textLength="48.54" lengthAdjust="spacingAndGlyphs">1.65 (1.20, 2.26)</text>
<text x="429.80" y="141.30" font-size="7.0" fill="#C42A45" stroke="#C42A45" stroke-width="0.12" text-anchor="end" textLength="16.11" lengthAdjust="spacingAndGlyphs">.0019</text>
<line x1="455.78" y1="139.00" x2="473.69" y2="139.00" stroke="#B5283F" stroke-width="0.9"/>
<line x1="455.78" y1="137.40" x2="455.78" y2="140.60" stroke="#B5283F" stroke-width="0.9"/>
<line x1="473.69" y1="137.40" x2="473.69" y2="140.60" stroke="#B5283F" stroke-width="0.9"/>
<rect x="461.19" y="136.80" width="4.40" height="4.40" fill="#C4062C" rx="0.9"/>
<text x="250.90" y="160.10" font-size="7.0" fill="#2e2e2e" stroke="#2e2e2e" stroke-width="0.12" textLength="26.42" lengthAdjust="spacingAndGlyphs">De Novo</text>
<text x="343.80" y="160.10" font-size="7.0" fill="#2e2e2e" stroke="#2e2e2e" stroke-width="0.12" text-anchor="end" textLength="24.38" lengthAdjust="spacingAndGlyphs">677 (91)</text>
<text x="373.40" y="160.10" font-size="7.0" fill="#2e2e2e" stroke="#2e2e2e" stroke-width="0.12" text-anchor="middle" textLength="30.03" lengthAdjust="spacingAndGlyphs">Reference</text>
<rect x="450.50" y="155.90" width="3.8" height="3.8" rx="0.4" fill="#4B5563"/>
<text x="250.90" y="169.30" font-size="7.0" fill="#2e2e2e" stroke="#2e2e2e" stroke-width="0.12" textLength="32.46" lengthAdjust="spacingAndGlyphs">Secondary</text>
<text x="343.80" y="169.30" font-size="7.0" fill="#2e2e2e" stroke="#2e2e2e" stroke-width="0.12" text-anchor="end" textLength="17.10" lengthAdjust="spacingAndGlyphs">39 (5)</text>
<text x="374.80" y="169.30" font-size="7.0" fill="#2e2e2e" stroke="#2e2e2e" stroke-width="0.12" text-anchor="middle" textLength="48.54" lengthAdjust="spacingAndGlyphs">1.71 (1.15, 2.54)</text>
<text x="429.80" y="169.30" font-size="7.0" fill="#C42A45" stroke="#C42A45" stroke-width="0.12" text-anchor="end" textLength="16.11" lengthAdjust="spacingAndGlyphs">.0081</text>
<line x1="454.94" y1="167.00" x2="478.43" y2="167.00" stroke="#B5283F" stroke-width="0.9"/>
<line x1="454.94" y1="165.40" x2="454.94" y2="168.60" stroke="#B5283F" stroke-width="0.9"/>
<line x1="478.43" y1="165.40" x2="478.43" y2="168.60" stroke="#B5283F" stroke-width="0.9"/>
<rect x="462.20" y="164.80" width="4.40" height="4.40" fill="#C4062C" rx="0.9"/>
<text x="250.90" y="178.80" font-size="7.0" fill="#2e2e2e" stroke="#2e2e2e" stroke-width="0.12" textLength="53.71" lengthAdjust="spacingAndGlyphs">Treatment-related</text>
<text x="343.80" y="178.80" font-size="7.0" fill="#2e2e2e" stroke="#2e2e2e" stroke-width="0.12" text-anchor="end" textLength="17.10" lengthAdjust="spacingAndGlyphs">27 (4)</text>
<text x="374.80" y="178.80" font-size="7.0" fill="#2e2e2e" stroke="#2e2e2e" stroke-width="0.12" text-anchor="middle" textLength="48.54" lengthAdjust="spacingAndGlyphs">1.26 (0.73, 2.17)</text>
<text x="429.80" y="178.80" font-size="7.0" fill="#2e2e2e" stroke="#2e2e2e" stroke-width="0.12" text-anchor="end" textLength="8.95" lengthAdjust="spacingAndGlyphs">.41</text>
<line x1="447.84" y1="176.50" x2="472.17" y2="176.50" stroke="#333" stroke-width="0.9"/>
<line x1="447.84" y1="174.90" x2="447.84" y2="178.10" stroke="#333" stroke-width="0.9"/>
<line x1="472.17" y1="174.90" x2="472.17" y2="178.10" stroke="#333" stroke-width="0.9"/>
<rect x="454.59" y="174.30" width="4.40" height="4.40" fill="#111" rx="0.9"/>
<text x="250.90" y="197.20" font-size="7.0" fill="#2e2e2e" stroke="#2e2e2e" stroke-width="0.12" textLength="15.29" lengthAdjust="spacingAndGlyphs">&lt;100</text>
<text x="343.80" y="197.20" font-size="7.0" fill="#2e2e2e" stroke="#2e2e2e" stroke-width="0.12" text-anchor="end" textLength="24.38" lengthAdjust="spacingAndGlyphs">690 (93)</text>
<text x="373.40" y="197.20" font-size="7.0" fill="#2e2e2e" stroke="#2e2e2e" stroke-width="0.12" text-anchor="middle" textLength="30.03" lengthAdjust="spacingAndGlyphs">Reference</text>
<rect x="450.50" y="193.00" width="3.8" height="3.8" rx="0.4" fill="#4B5563"/>
<text x="250.90" y="206.40" font-size="7.0" fill="#2e2e2e" stroke="#2e2e2e" stroke-width="0.12" textLength="19.26" lengthAdjust="spacingAndGlyphs">&gt;=100</text>
<text x="343.80" y="206.40" font-size="7.0" fill="#2e2e2e" stroke="#2e2e2e" stroke-width="0.12" text-anchor="end" textLength="17.10" lengthAdjust="spacingAndGlyphs">53 (7)</text>
<text x="374.80" y="206.40" font-size="7.0" fill="#2e2e2e" stroke="#2e2e2e" stroke-width="0.12" text-anchor="middle" textLength="48.54" lengthAdjust="spacingAndGlyphs">1.29 (0.85, 1.97)</text>
<text x="429.80" y="206.40" font-size="7.0" fill="#2e2e2e" stroke="#2e2e2e" stroke-width="0.12" text-anchor="end" textLength="8.95" lengthAdjust="spacingAndGlyphs">.24</text>
<line x1="449.87" y1="204.10" x2="468.79" y2="204.10" stroke="#333" stroke-width="0.9"/>
<line x1="449.87" y1="202.50" x2="449.87" y2="205.70" stroke="#333" stroke-width="0.9"/>
<line x1="468.79" y1="202.50" x2="468.79" y2="205.70" stroke="#333" stroke-width="0.9"/>
<rect x="455.10" y="201.90" width="4.40" height="4.40" fill="#111" rx="0.9"/>
<line x1="432.00" y1="208.90" x2="498.00" y2="208.90" stroke="#222" stroke-width="1.1"/>
<line x1="435.50" y1="208.90" x2="435.50" y2="211.70" stroke="#222" stroke-width="1"/>
<line x1="443.95" y1="208.90" x2="443.95" y2="211.70" stroke="#222" stroke-width="1"/>
<line x1="452.40" y1="208.90" x2="452.40" y2="211.70" stroke="#222" stroke-width="1"/>
<line x1="460.85" y1="208.90" x2="460.85" y2="211.70" stroke="#222" stroke-width="1"/>
<line x1="469.30" y1="208.90" x2="469.30" y2="211.70" stroke="#222" stroke-width="1"/>
<line x1="477.75" y1="208.90" x2="477.75" y2="211.70" stroke="#222" stroke-width="1"/>
<line x1="486.20" y1="208.90" x2="486.20" y2="211.70" stroke="#222" stroke-width="1"/>
<line x1="494.65" y1="208.90" x2="494.65" y2="211.70" stroke="#222" stroke-width="1"/>
<text x="435.50" y="221.80" font-size="7.8" fill="#333" stroke="#333" stroke-width="0.12" text-anchor="middle" textLength="9.97" lengthAdjust="spacingAndGlyphs">0.0</text>
<text x="452.40" y="221.80" font-size="7.8" fill="#333" stroke="#333" stroke-width="0.12" text-anchor="middle" textLength="9.97" lengthAdjust="spacingAndGlyphs">1.0</text>
<text x="469.30" y="221.80" font-size="7.8" fill="#333" stroke="#333" stroke-width="0.12" text-anchor="middle" textLength="9.97" lengthAdjust="spacingAndGlyphs">2.0</text>
<text x="486.20" y="221.80" font-size="7.8" fill="#333" stroke="#333" stroke-width="0.12" text-anchor="middle" textLength="9.97" lengthAdjust="spacingAndGlyphs">3.0</text>
<rect x="236.80" y="260.80" width="276.70" height="27.10" fill="#FCEFD3"/>
<rect x="236.80" y="329.90" width="276.70" height="27.10" fill="#FCEFD3"/>
<rect x="236.80" y="399.50" width="276.70" height="18.80" fill="#FCEFD3"/>
<line x1="453.55" y1="256.00" x2="453.55" y2="447.70" stroke="#1a1a1a" stroke-width="0.95" stroke-dasharray="1.8,2.6"/>
<rect x="236.80" y="252.40" width="276.70" height="8.40" fill="#C1002B"/>
<rect x="236.80" y="287.90" width="276.70" height="8.10" fill="#C1002B"/>
<rect x="236.80" y="322.20" width="276.70" height="7.70" fill="#C1002B"/>
<rect x="236.80" y="357.00" width="276.70" height="8.00" fill="#C1002B"/>
<rect x="236.80" y="391.20" width="276.70" height="8.30" fill="#C1002B"/>
<rect x="236.80" y="418.30" width="276.70" height="8.30" fill="#C1002B"/>
<text x="325.50" y="250.30" font-size="6.6" fill="#3a3a3a" stroke="#3a3a3a" stroke-width="0.12" textLength="16.40" lengthAdjust="spacingAndGlyphs">N (%)</text>
<text x="356.20" y="250.30" font-size="6.6" fill="#3a3a3a" stroke="#3a3a3a" stroke-width="0.12" textLength="40.20" lengthAdjust="spacingAndGlyphs">SHR (95% CI)</text>
<text x="410.50" y="250.30" font-size="6.6" fill="#3a3a3a" stroke="#3a3a3a" stroke-width="0.12" textLength="22.30" lengthAdjust="spacingAndGlyphs">P-value</text>
<text x="244.90" y="258.70" font-size="6.9" fill="#FFF0F0" stroke="#FFF0F0" stroke-width="0.12" textLength="71.00" lengthAdjust="spacingAndGlyphs">LSC status at diagnosis</text>
<text x="244.90" y="293.90" font-size="6.9" fill="#FFF0F0" stroke="#FFF0F0" stroke-width="0.12" textLength="61.00" lengthAdjust="spacingAndGlyphs">ELN2017 risk group</text>
<text x="244.90" y="327.80" font-size="6.9" fill="#FFF0F0" stroke="#FFF0F0" stroke-width="0.12">Age</text>
<text x="244.90" y="362.90" font-size="6.9" fill="#FFF0F0" stroke="#FFF0F0" stroke-width="0.12" textLength="30.30" lengthAdjust="spacingAndGlyphs">AML type</text>
<text x="244.90" y="397.40" font-size="6.9" fill="#FFF0F0" stroke="#FFF0F0" stroke-width="0.12" textLength="90.50" lengthAdjust="spacingAndGlyphs">White blood cells at diagnosis</text>
<text x="244.90" y="424.50" font-size="6.9" fill="#FFF0F0" stroke="#FFF0F0" stroke-width="0.12" textLength="78.80" lengthAdjust="spacingAndGlyphs">Last treatment before CR</text>
<text x="252.90" y="267.50" font-size="7.0" fill="#2e2e2e" stroke="#2e2e2e" stroke-width="0.12" textLength="28.98" lengthAdjust="spacingAndGlyphs">CD34neg</text>
<text x="344.50" y="267.50" font-size="7.0" fill="#2e2e2e" stroke="#2e2e2e" stroke-width="0.12" text-anchor="end" textLength="20.25" lengthAdjust="spacingAndGlyphs">67 (11)</text>
<text x="373.60" y="267.50" font-size="7.0" fill="#2e2e2e" stroke="#2e2e2e" stroke-width="0.12" text-anchor="middle" textLength="30.03" lengthAdjust="spacingAndGlyphs">Reference</text>
<rect x="451.65" y="263.30" width="3.8" height="3.8" rx="0.4" fill="#4B5563"/>
<text x="252.90" y="276.30" font-size="7.0" fill="#2e2e2e" stroke="#2e2e2e" stroke-width="0.12" textLength="23.64" lengthAdjust="spacingAndGlyphs">LSClow</text>
<text x="344.50" y="276.30" font-size="7.0" fill="#2e2e2e" stroke="#2e2e2e" stroke-width="0.12" text-anchor="end" textLength="24.38" lengthAdjust="spacingAndGlyphs">367 (59)</text>
<text x="375.00" y="276.30" font-size="7.0" fill="#2e2e2e" stroke="#2e2e2e" stroke-width="0.12" text-anchor="middle" textLength="48.54" lengthAdjust="spacingAndGlyphs">1.60 (0.93, 2.73)</text>
<text x="429.80" y="276.30" font-size="7.0" fill="#2e2e2e" stroke="#2e2e2e" stroke-width="0.12" text-anchor="end" textLength="12.53" lengthAdjust="spacingAndGlyphs">.088</text>
<line x1="452.37" y1="274.00" x2="482.70" y2="274.00" stroke="#333" stroke-width="0.9"/>
<line x1="452.37" y1="272.40" x2="452.37" y2="275.60" stroke="#333" stroke-width="0.9"/>
<line x1="482.70" y1="272.40" x2="482.70" y2="275.60" stroke="#333" stroke-width="0.9"/>
<rect x="461.46" y="271.80" width="4.40" height="4.40" fill="#111" rx="0.9"/>
<text x="252.90" y="284.70" font-size="7.0" fill="#2e2e2e" stroke="#2e2e2e" stroke-width="0.12" textLength="26.31" lengthAdjust="spacingAndGlyphs">LSChigh</text>
<text x="344.50" y="284.70" font-size="7.0" fill="#2e2e2e" stroke="#2e2e2e" stroke-width="0.12" text-anchor="end" textLength="24.38" lengthAdjust="spacingAndGlyphs">193 (31)</text>
<text x="375.00" y="284.70" font-size="7.0" fill="#2e2e2e" stroke="#2e2e2e" stroke-width="0.12" text-anchor="middle" textLength="48.54" lengthAdjust="spacingAndGlyphs">1.91 (1.09, 3.35)</text>
<text x="429.80" y="284.70" font-size="7.0" fill="#C42A45" stroke="#C42A45" stroke-width="0.12" text-anchor="end" textLength="12.53" lengthAdjust="spacingAndGlyphs">.023</text>
<line x1="455.07" y1="282.40" x2="493.15" y2="282.40" stroke="#B5283F" stroke-width="0.9"/>
<line x1="455.07" y1="280.80" x2="455.07" y2="284.00" stroke="#B5283F" stroke-width="0.9"/>
<line x1="493.15" y1="280.80" x2="493.15" y2="284.00" stroke="#B5283F" stroke-width="0.9"/>
<rect x="466.68" y="280.20" width="4.40" height="4.40" fill="#C4062C" rx="0.9"/>
<text x="252.90" y="303.10" font-size="7.0" fill="#2e2e2e" stroke="#2e2e2e" stroke-width="0.12" textLength="30.50" lengthAdjust="spacingAndGlyphs">Favorable</text>
<text x="344.50" y="303.10" font-size="7.0" fill="#2e2e2e" stroke="#2e2e2e" stroke-width="0.12" text-anchor="end" textLength="24.38" lengthAdjust="spacingAndGlyphs">262 (42)</text>
<text x="373.60" y="303.10" font-size="7.0" fill="#2e2e2e" stroke="#2e2e2e" stroke-width="0.12" text-anchor="middle" textLength="30.03" lengthAdjust="spacingAndGlyphs">Reference</text>
<rect x="451.65" y="298.90" width="3.8" height="3.8" rx="0.4" fill="#4B5563"/>
<text x="252.90" y="311.30" font-size="7.0" fill="#2e2e2e" stroke="#2e2e2e" stroke-width="0.12" textLength="38.13" lengthAdjust="spacingAndGlyphs">Intermediate</text>
<text x="344.50" y="311.30" font-size="7.0" fill="#2e2e2e" stroke="#2e2e2e" stroke-width="0.12" text-anchor="end" textLength="24.38" lengthAdjust="spacingAndGlyphs">169 (27)</text>
<text x="375.00" y="311.30" font-size="7.0" fill="#2e2e2e" stroke="#2e2e2e" stroke-width="0.12" text-anchor="middle" textLength="48.54" lengthAdjust="spacingAndGlyphs">1.44 (1.03, 2.01)</text>
<text x="429.80" y="311.30" font-size="7.0" fill="#C42A45" stroke="#C42A45" stroke-width="0.12" text-anchor="end" textLength="12.53" lengthAdjust="spacingAndGlyphs">.031</text>
<line x1="454.06" y1="309.00" x2="470.57" y2="309.00" stroke="#B5283F" stroke-width="0.9"/>
<line x1="454.06" y1="307.40" x2="454.06" y2="310.60" stroke="#B5283F" stroke-width="0.9"/>
<line x1="470.57" y1="307.40" x2="470.57" y2="310.60" stroke="#B5283F" stroke-width="0.9"/>
<rect x="458.76" y="306.80" width="4.40" height="4.40" fill="#C4062C" rx="0.9"/>
<text x="252.90" y="319.90" font-size="7.0" fill="#2e2e2e" stroke="#2e2e2e" stroke-width="0.12" textLength="25.16" lengthAdjust="spacingAndGlyphs">Adverse</text>
<text x="344.50" y="319.90" font-size="7.0" fill="#2e2e2e" stroke="#2e2e2e" stroke-width="0.12" text-anchor="end" textLength="24.38" lengthAdjust="spacingAndGlyphs">196 (31)</text>
<text x="375.00" y="319.90" font-size="7.0" fill="#2e2e2e" stroke="#2e2e2e" stroke-width="0.12" text-anchor="middle" textLength="48.54" lengthAdjust="spacingAndGlyphs">1.64 (1.18, 2.28)</text>
<text x="429.80" y="319.90" font-size="7.0" fill="#C42A45" stroke="#C42A45" stroke-width="0.12" text-anchor="end" textLength="16.11" lengthAdjust="spacingAndGlyphs">.0032</text>
<line x1="456.58" y1="317.60" x2="475.12" y2="317.60" stroke="#B5283F" stroke-width="0.9"/>
<line x1="456.58" y1="316.00" x2="456.58" y2="319.20" stroke="#B5283F" stroke-width="0.9"/>
<line x1="475.12" y1="316.00" x2="475.12" y2="319.20" stroke="#B5283F" stroke-width="0.9"/>
<rect x="462.13" y="315.40" width="4.40" height="4.40" fill="#C4062C" rx="0.9"/>
<text x="252.90" y="337.30" font-size="7.0" fill="#2e2e2e" stroke="#2e2e2e" stroke-width="0.12" textLength="15.64" lengthAdjust="spacingAndGlyphs">&lt;=45</text>
<text x="344.50" y="337.30" font-size="7.0" fill="#2e2e2e" stroke="#2e2e2e" stroke-width="0.12" text-anchor="end" textLength="24.38" lengthAdjust="spacingAndGlyphs">177 (28)</text>
<text x="373.60" y="337.30" font-size="7.0" fill="#2e2e2e" stroke="#2e2e2e" stroke-width="0.12" text-anchor="middle" textLength="30.03" lengthAdjust="spacingAndGlyphs">Reference</text>
<rect x="451.65" y="333.10" width="3.8" height="3.8" rx="0.4" fill="#4B5563"/>
<text x="252.90" y="345.90" font-size="7.0" fill="#2e2e2e" stroke="#2e2e2e" stroke-width="0.12" textLength="17.54" lengthAdjust="spacingAndGlyphs">46-60</text>
<text x="344.50" y="345.90" font-size="7.0" fill="#2e2e2e" stroke="#2e2e2e" stroke-width="0.12" text-anchor="end" textLength="24.38" lengthAdjust="spacingAndGlyphs">302 (48)</text>
<text x="375.00" y="345.90" font-size="7.0" fill="#2e2e2e" stroke="#2e2e2e" stroke-width="0.12" text-anchor="middle" textLength="48.54" lengthAdjust="spacingAndGlyphs">0.94 (0.69, 1.27)</text>
<text x="429.80" y="345.90" font-size="7.0" fill="#2e2e2e" stroke="#2e2e2e" stroke-width="0.12" text-anchor="end" textLength="8.95" lengthAdjust="spacingAndGlyphs">.67</text>
<line x1="448.33" y1="343.60" x2="458.10" y2="343.60" stroke="#333" stroke-width="0.9"/>
<line x1="448.33" y1="342.00" x2="448.33" y2="345.20" stroke="#333" stroke-width="0.9"/>
<line x1="458.10" y1="342.00" x2="458.10" y2="345.20" stroke="#333" stroke-width="0.9"/>
<rect x="450.34" y="341.40" width="4.40" height="4.40" fill="#111" rx="0.9"/>
<text x="252.90" y="354.50" font-size="7.0" fill="#2e2e2e" stroke="#2e2e2e" stroke-width="0.12" textLength="11.64" lengthAdjust="spacingAndGlyphs">&gt;60</text>
<text x="344.50" y="354.50" font-size="7.0" fill="#2e2e2e" stroke="#2e2e2e" stroke-width="0.12" text-anchor="end" textLength="24.38" lengthAdjust="spacingAndGlyphs">148 (24)</text>
<text x="375.00" y="354.50" font-size="7.0" fill="#2e2e2e" stroke="#2e2e2e" stroke-width="0.12" text-anchor="middle" textLength="48.54" lengthAdjust="spacingAndGlyphs">0.98 (0.69, 1.41)</text>
<text x="429.80" y="354.50" font-size="7.0" fill="#2e2e2e" stroke="#2e2e2e" stroke-width="0.12" text-anchor="end" textLength="8.95" lengthAdjust="spacingAndGlyphs">.93</text>
<line x1="448.33" y1="352.20" x2="460.46" y2="352.20" stroke="#333" stroke-width="0.9"/>
<line x1="448.33" y1="350.60" x2="448.33" y2="353.80" stroke="#333" stroke-width="0.9"/>
<line x1="460.46" y1="350.60" x2="460.46" y2="353.80" stroke="#333" stroke-width="0.9"/>
<rect x="451.01" y="350.00" width="4.40" height="4.40" fill="#111" rx="0.9"/>
<text x="252.90" y="372.10" font-size="7.0" fill="#2e2e2e" stroke="#2e2e2e" stroke-width="0.12" textLength="25.55" lengthAdjust="spacingAndGlyphs">De novo</text>
<text x="344.50" y="372.10" font-size="7.0" fill="#2e2e2e" stroke="#2e2e2e" stroke-width="0.12" text-anchor="end" textLength="24.38" lengthAdjust="spacingAndGlyphs">579 (92)</text>
<text x="373.60" y="372.10" font-size="7.0" fill="#2e2e2e" stroke="#2e2e2e" stroke-width="0.12" text-anchor="middle" textLength="30.03" lengthAdjust="spacingAndGlyphs">Reference</text>
<rect x="451.65" y="367.90" width="3.8" height="3.8" rx="0.4" fill="#4B5563"/>
<text x="252.90" y="380.20" font-size="7.0" fill="#2e2e2e" stroke="#2e2e2e" stroke-width="0.12" textLength="32.79" lengthAdjust="spacingAndGlyphs">Secondary</text>
<text x="344.50" y="380.20" font-size="7.0" fill="#2e2e2e" stroke="#2e2e2e" stroke-width="0.12" text-anchor="end" textLength="17.10" lengthAdjust="spacingAndGlyphs">27 (4)</text>
<text x="375.00" y="380.20" font-size="7.0" fill="#2e2e2e" stroke="#2e2e2e" stroke-width="0.12" text-anchor="middle" textLength="48.54" lengthAdjust="spacingAndGlyphs">1.28 (0.74, 2.18)</text>
<text x="429.80" y="380.20" font-size="7.0" fill="#2e2e2e" stroke="#2e2e2e" stroke-width="0.12" text-anchor="end" textLength="8.95" lengthAdjust="spacingAndGlyphs">.38</text>
<line x1="449.17" y1="377.90" x2="473.43" y2="377.90" stroke="#333" stroke-width="0.9"/>
<line x1="449.17" y1="376.30" x2="449.17" y2="379.50" stroke="#333" stroke-width="0.9"/>
<line x1="473.43" y1="376.30" x2="473.43" y2="379.50" stroke="#333" stroke-width="0.9"/>
<rect x="456.07" y="375.70" width="4.40" height="4.40" fill="#111" rx="0.9"/>
<text x="252.90" y="388.70" font-size="7.0" fill="#2e2e2e" stroke="#2e2e2e" stroke-width="0.12" textLength="55.79" lengthAdjust="spacingAndGlyphs">Treatment–related</text>
<text x="344.50" y="388.70" font-size="7.0" fill="#2e2e2e" stroke="#2e2e2e" stroke-width="0.12" text-anchor="end" textLength="17.10" lengthAdjust="spacingAndGlyphs">21 (3)</text>
<text x="375.00" y="388.70" font-size="7.0" fill="#2e2e2e" stroke="#2e2e2e" stroke-width="0.12" text-anchor="middle" textLength="48.54" lengthAdjust="spacingAndGlyphs">0.81 (0.34, 1.95)</text>
<text x="429.80" y="388.70" font-size="7.0" fill="#2e2e2e" stroke="#2e2e2e" stroke-width="0.12" text-anchor="end" textLength="8.95" lengthAdjust="spacingAndGlyphs">.64</text>
<line x1="442.43" y1="386.40" x2="469.56" y2="386.40" stroke="#333" stroke-width="0.9"/>
<line x1="442.43" y1="384.80" x2="442.43" y2="388.00" stroke="#333" stroke-width="0.9"/>
<line x1="469.56" y1="384.80" x2="469.56" y2="388.00" stroke="#333" stroke-width="0.9"/>
<rect x="448.15" y="384.20" width="4.40" height="4.40" fill="#111" rx="0.9"/>
<text x="252.90" y="406.40" font-size="7.0" fill="#2e2e2e" stroke="#2e2e2e" stroke-width="0.12" textLength="15.45" lengthAdjust="spacingAndGlyphs">&lt;100</text>
<text x="344.50" y="406.40" font-size="7.0" fill="#2e2e2e" stroke="#2e2e2e" stroke-width="0.12" text-anchor="end" textLength="24.38" lengthAdjust="spacingAndGlyphs">581 (93)</text>
<text x="373.60" y="406.40" font-size="7.0" fill="#2e2e2e" stroke="#2e2e2e" stroke-width="0.12" text-anchor="middle" textLength="30.03" lengthAdjust="spacingAndGlyphs">Reference</text>
<rect x="451.65" y="402.20" width="3.8" height="3.8" rx="0.4" fill="#4B5563"/>
<text x="252.90" y="415.00" font-size="7.0" fill="#2e2e2e" stroke="#2e2e2e" stroke-width="0.12" textLength="19.46" lengthAdjust="spacingAndGlyphs">&gt;=100</text>
<text x="344.50" y="415.00" font-size="7.0" fill="#2e2e2e" stroke="#2e2e2e" stroke-width="0.12" text-anchor="end" textLength="17.10" lengthAdjust="spacingAndGlyphs">46 (7)</text>
<text x="375.00" y="415.00" font-size="7.0" fill="#2e2e2e" stroke="#2e2e2e" stroke-width="0.12" text-anchor="middle" textLength="48.54" lengthAdjust="spacingAndGlyphs">1.05 (0.61, 1.81)</text>
<text x="429.80" y="415.00" font-size="7.0" fill="#2e2e2e" stroke="#2e2e2e" stroke-width="0.12" text-anchor="end" textLength="8.95" lengthAdjust="spacingAndGlyphs">.85</text>
<line x1="446.98" y1="412.70" x2="467.20" y2="412.70" stroke="#333" stroke-width="0.9"/>
<line x1="446.98" y1="411.10" x2="446.98" y2="414.30" stroke="#333" stroke-width="0.9"/>
<line x1="467.20" y1="411.10" x2="467.20" y2="414.30" stroke="#333" stroke-width="0.9"/>
<rect x="452.19" y="410.50" width="4.40" height="4.40" fill="#111" rx="0.9"/>
<text x="252.90" y="433.40" font-size="7.0" fill="#2e2e2e" stroke="#2e2e2e" stroke-width="0.12" textLength="5.91" lengthAdjust="spacingAndGlyphs">&gt;I</text>
<text x="344.50" y="433.40" font-size="7.0" fill="#2e2e2e" stroke="#2e2e2e" stroke-width="0.12" text-anchor="end" textLength="24.38" lengthAdjust="spacingAndGlyphs">493 (79)</text>
<text x="373.60" y="433.40" font-size="7.0" fill="#2e2e2e" stroke="#2e2e2e" stroke-width="0.12" text-anchor="middle" textLength="30.03" lengthAdjust="spacingAndGlyphs">Reference</text>
<rect x="451.65" y="429.20" width="3.8" height="3.8" rx="0.4" fill="#4B5563"/>
<text x="252.90" y="442.00" font-size="7.0" fill="#2e2e2e" stroke="#2e2e2e" stroke-width="0.12" textLength="7.82" lengthAdjust="spacingAndGlyphs">&gt;II</text>
<text x="344.50" y="442.00" font-size="7.0" fill="#2e2e2e" stroke="#2e2e2e" stroke-width="0.12" text-anchor="end" textLength="24.38" lengthAdjust="spacingAndGlyphs">134 (21)</text>
<text x="375.00" y="442.00" font-size="7.0" fill="#2e2e2e" stroke="#2e2e2e" stroke-width="0.12" text-anchor="middle" textLength="48.54" lengthAdjust="spacingAndGlyphs">1.35 (1.00, 1.83)</text>
<text x="429.80" y="442.00" font-size="7.0" fill="#C42A45" stroke="#C42A45" stroke-width="0.12" text-anchor="end" textLength="12.53" lengthAdjust="spacingAndGlyphs">.047</text>
<line x1="453.55" y1="439.70" x2="467.54" y2="439.70" stroke="#B5283F" stroke-width="0.9"/>
<line x1="453.55" y1="438.10" x2="453.55" y2="441.30" stroke="#B5283F" stroke-width="0.9"/>
<line x1="467.54" y1="438.10" x2="467.54" y2="441.30" stroke="#B5283F" stroke-width="0.9"/>
<rect x="457.25" y="437.50" width="4.40" height="4.40" fill="#C4062C" rx="0.9"/>
<line x1="434.40" y1="447.70" x2="498.00" y2="447.70" stroke="#222" stroke-width="1.1"/>
<line x1="436.70" y1="447.70" x2="436.70" y2="450.50" stroke="#222" stroke-width="1"/>
<line x1="445.12" y1="447.70" x2="445.12" y2="450.50" stroke="#222" stroke-width="1"/>
<line x1="453.55" y1="447.70" x2="453.55" y2="450.50" stroke="#222" stroke-width="1"/>
<line x1="461.97" y1="447.70" x2="461.97" y2="450.50" stroke="#222" stroke-width="1"/>
<line x1="470.40" y1="447.70" x2="470.40" y2="450.50" stroke="#222" stroke-width="1"/>
<line x1="478.82" y1="447.70" x2="478.82" y2="450.50" stroke="#222" stroke-width="1"/>
<line x1="487.25" y1="447.70" x2="487.25" y2="450.50" stroke="#222" stroke-width="1"/>
<line x1="495.68" y1="447.70" x2="495.68" y2="450.50" stroke="#222" stroke-width="1"/>
<text x="436.70" y="460.10" font-size="7.8" fill="#333" stroke="#333" stroke-width="0.12" text-anchor="middle" textLength="9.97" lengthAdjust="spacingAndGlyphs">0.0</text>
<text x="453.55" y="460.10" font-size="7.8" fill="#333" stroke="#333" stroke-width="0.12" text-anchor="middle" textLength="9.97" lengthAdjust="spacingAndGlyphs">1.0</text>
<text x="470.40" y="460.10" font-size="7.8" fill="#333" stroke="#333" stroke-width="0.12" text-anchor="middle" textLength="9.97" lengthAdjust="spacingAndGlyphs">2.0</text>
<text x="487.25" y="460.10" font-size="7.8" fill="#333" stroke="#333" stroke-width="0.12" text-anchor="middle" textLength="9.97" lengthAdjust="spacingAndGlyphs">3.0</text>
<rect x="0.5" y="0.5" width="519" height="467" fill="none" stroke="#5a5a5a" stroke-width="1"/>
</svg>
</body></html>
